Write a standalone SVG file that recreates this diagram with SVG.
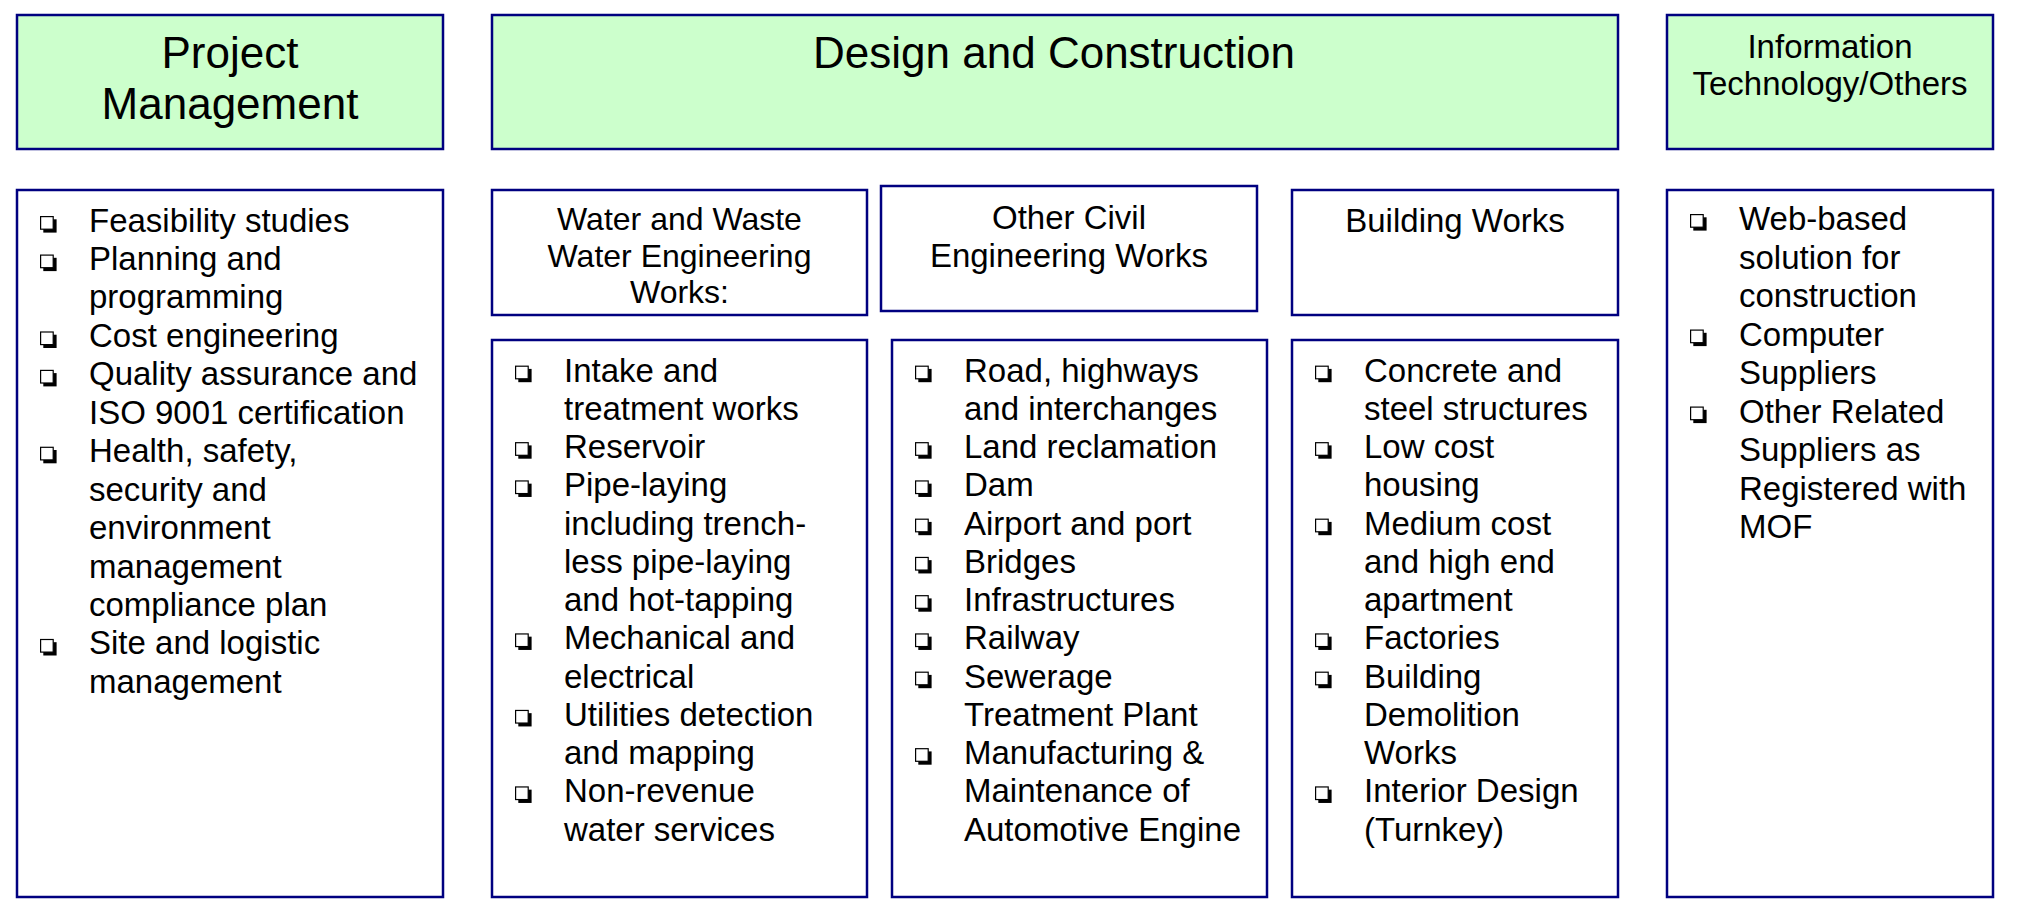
<svg xmlns="http://www.w3.org/2000/svg" xmlns:xlink="http://www.w3.org/1999/xlink" width="2031" height="908" viewBox="0 0 2031 908">
<style>
.hdr{fill:#CCFFCC;stroke:#000080;stroke-width:2.5}
.box{fill:#FFFFFF;stroke:#000080;stroke-width:2.5}
text{font-family:"Liberation Sans",Arial,sans-serif;fill:#000}
.t44{font-size:44px;text-anchor:middle}
.t33c{font-size:33px;text-anchor:middle}
.t32c{font-size:32px;text-anchor:middle}
.li{font-size:33px}
</style>
<defs>
<g id="bul">
<rect x="3.3" y="3.3" width="13.3" height="13.3" fill="#000"/>
<rect x="0.6" y="0.6" width="12.6" height="12.6" fill="#fff" stroke="#000" stroke-width="1.2"/>
</g>
</defs>
<rect width="2031" height="908" fill="#fff"/>

<g id="pm-header">
<rect class="hdr" x="17" y="15" width="426" height="134"/>
<text class="t44" x="230" y="67.5">Project</text>
<text class="t44" x="230" y="119">Management</text>
</g>

<g id="dc-header">
<rect class="hdr" x="492" y="15" width="1126" height="134"/>
<text class="t44" x="1054" y="68">Design and Construction</text>
</g>

<g id="it-header">
<rect class="hdr" x="1667" y="15" width="326" height="134"/>
<text class="t33c" x="1830" y="58">Information</text>
<text class="t33c" x="1830" y="95">Technology/Others</text>
</g>

<g id="pm-list">
<rect class="box" x="17" y="190" width="426" height="707"/>
<use xlink:href="#bul" x="40" y="216"/>
<use xlink:href="#bul" x="40" y="254.5"/>
<use xlink:href="#bul" x="40" y="331.4"/>
<use xlink:href="#bul" x="40" y="369.8"/>
<use xlink:href="#bul" x="40" y="446.7"/>
<use xlink:href="#bul" x="40" y="638.9"/>
<text class="li" x="89" y="231.5">Feasibility studies<tspan x="89" dy="38.45">Planning and</tspan><tspan x="89" dy="38.45">programming</tspan><tspan x="89" dy="38.45">Cost engineering</tspan><tspan x="89" dy="38.45">Quality assurance and</tspan><tspan x="89" dy="38.45">ISO 9001 certification</tspan><tspan x="89" dy="38.45">Health, safety,</tspan><tspan x="89" dy="38.45">security and</tspan><tspan x="89" dy="38.45">environment</tspan><tspan x="89" dy="38.45">management</tspan><tspan x="89" dy="38.45">compliance plan</tspan><tspan x="89" dy="38.45">Site and logistic</tspan><tspan x="89" dy="38.45">management</tspan></text>
</g>

<g id="water-header">
<rect class="box" x="492" y="190" width="375" height="125"/>
<text class="t32c" x="679.5" y="230">Water and Waste</text>
<text class="t32c" x="679.5" y="266.5">Water Engineering</text>
<text class="t32c" x="679.5" y="303">Works:</text>
</g>

<g id="civil-header">
<rect class="box" x="881" y="186" width="376" height="125"/>
<text class="t33c" x="1069" y="229.3">Other Civil</text>
<text class="t33c" x="1069" y="266.7">Engineering Works</text>
</g>

<g id="building-header">
<rect class="box" x="1292" y="190" width="326" height="125"/>
<text class="t33c" x="1455" y="231.5">Building Works</text>
</g>

<g id="water-list">
<rect class="box" x="492" y="340" width="375" height="557"/>
<use xlink:href="#bul" x="515" y="365.6"/>
<use xlink:href="#bul" x="515" y="442.1"/>
<use xlink:href="#bul" x="515" y="480.35"/>
<use xlink:href="#bul" x="515" y="633.35"/>
<use xlink:href="#bul" x="515" y="709.85"/>
<use xlink:href="#bul" x="515" y="786.35"/>
<text class="li" x="564" y="381.6">Intake and<tspan x="564" dy="38.25">treatment works</tspan><tspan x="564" dy="38.25">Reservoir</tspan><tspan x="564" dy="38.25">Pipe-laying</tspan><tspan x="564" dy="38.25">including trench-</tspan><tspan x="564" dy="38.25">less pipe-laying</tspan><tspan x="564" dy="38.25">and hot-tapping</tspan><tspan x="564" dy="38.25">Mechanical and</tspan><tspan x="564" dy="38.25">electrical</tspan><tspan x="564" dy="38.25">Utilities detection</tspan><tspan x="564" dy="38.25">and mapping</tspan><tspan x="564" dy="38.25">Non-revenue</tspan><tspan x="564" dy="38.25">water services</tspan></text>
</g>

<g id="civil-list">
<rect class="box" x="892" y="340" width="375" height="557"/>
<use xlink:href="#bul" x="915" y="365.6"/>
<use xlink:href="#bul" x="915" y="442.1"/>
<use xlink:href="#bul" x="915" y="480.35"/>
<use xlink:href="#bul" x="915" y="518.6"/>
<use xlink:href="#bul" x="915" y="556.85"/>
<use xlink:href="#bul" x="915" y="595.1"/>
<use xlink:href="#bul" x="915" y="633.35"/>
<use xlink:href="#bul" x="915" y="671.6"/>
<use xlink:href="#bul" x="915" y="748.1"/>
<text class="li" x="964" y="381.6">Road, highways<tspan x="964" dy="38.25">and interchanges</tspan><tspan x="964" dy="38.25">Land reclamation</tspan><tspan x="964" dy="38.25">Dam</tspan><tspan x="964" dy="38.25">Airport and port</tspan><tspan x="964" dy="38.25">Bridges</tspan><tspan x="964" dy="38.25">Infrastructures</tspan><tspan x="964" dy="38.25">Railway</tspan><tspan x="964" dy="38.25">Sewerage</tspan><tspan x="964" dy="38.25">Treatment Plant</tspan><tspan x="964" dy="38.25">Manufacturing &amp;</tspan><tspan x="964" dy="38.25">Maintenance of</tspan><tspan x="964" dy="38.25">Automotive Engine</tspan></text>
</g>

<g id="building-list">
<rect class="box" x="1292" y="340" width="326" height="557"/>
<use xlink:href="#bul" x="1315" y="365.6"/>
<use xlink:href="#bul" x="1315" y="442.1"/>
<use xlink:href="#bul" x="1315" y="518.6"/>
<use xlink:href="#bul" x="1315" y="633.35"/>
<use xlink:href="#bul" x="1315" y="671.6"/>
<use xlink:href="#bul" x="1315" y="786.35"/>
<text class="li" x="1364" y="381.6">Concrete and<tspan x="1364" dy="38.25">steel structures</tspan><tspan x="1364" dy="38.25">Low cost</tspan><tspan x="1364" dy="38.25">housing</tspan><tspan x="1364" dy="38.25">Medium cost</tspan><tspan x="1364" dy="38.25">and high end</tspan><tspan x="1364" dy="38.25">apartment</tspan><tspan x="1364" dy="38.25">Factories</tspan><tspan x="1364" dy="38.25">Building</tspan><tspan x="1364" dy="38.25">Demolition</tspan><tspan x="1364" dy="38.25">Works</tspan><tspan x="1364" dy="38.25">Interior Design</tspan><tspan x="1364" dy="38.25">(Turnkey)</tspan></text>
</g>

<g id="it-list">
<rect class="box" x="1667" y="190" width="326" height="707"/>
<use xlink:href="#bul" x="1690" y="214"/>
<use xlink:href="#bul" x="1690" y="329.5"/>
<use xlink:href="#bul" x="1690" y="406.5"/>
<text class="li" x="1739" y="230">Web-based<tspan x="1739" dy="38.5">solution for</tspan><tspan x="1739" dy="38.5">construction</tspan><tspan x="1739" dy="38.5">Computer</tspan><tspan x="1739" dy="38.5">Suppliers</tspan><tspan x="1739" dy="38.5">Other Related</tspan><tspan x="1739" dy="38.5">Suppliers as</tspan><tspan x="1739" dy="38.5">Registered with</tspan><tspan x="1739" dy="38.5">MOF</tspan></text>
</g>

<g id="connectors"></g>
</svg>
